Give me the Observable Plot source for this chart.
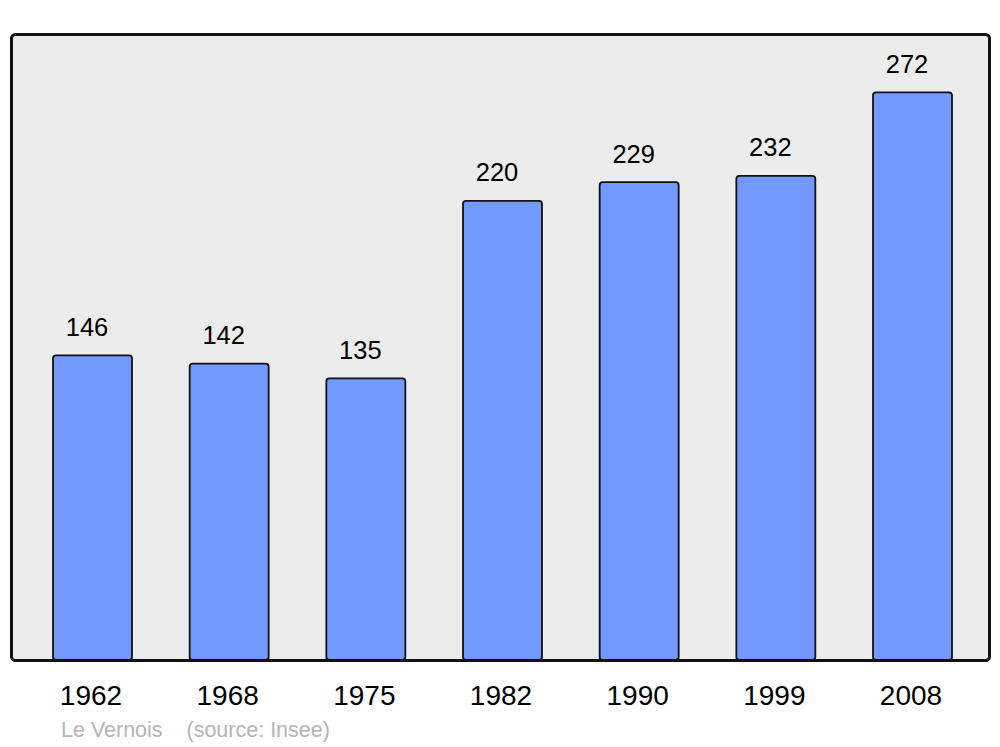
<!DOCTYPE html>
<html>
<head>
<meta charset="utf-8">
<script src="https://cdn.jsdelivr.net/npm/d3@7"></script>
<script src="https://cdn.jsdelivr.net/npm/@observablehq/plot@0.6"></script>
<style>
  html, body { margin: 0; padding: 0; background: #fff; }
  #wrap { position: relative; width: 1000px; height: 747px; font-family: "Liberation Sans", Arial, sans-serif; }
  #caption { position: absolute; left: 61px; top: 720px; font-size: 21.5px; line-height: 21.5px; color: #b5b5b5; white-space: pre; }
</style>
</head>
<body>
<div id="wrap"></div>
<script>
const years = ["1962", "1968", "1975", "1982", "1990", "1999", "2008"];
const population = [146, 142, 135, 220, 229, 232, 272];
const captionText = "Le Vernois    (source: Insee)";

const data = years.map((y, i) => ({year: y, value: population[i]}));

const chart = Plot.plot({
  width: 1000,
  height: 712,
  marginLeft: 11,
  marginRight: 11,
  marginTop: 34,
  marginBottom: 52,
  style: {fontFamily: "Liberation Sans, Arial, sans-serif", background: "transparent"},
  x: {domain: years, range: [53, 952], paddingInner: 0.422, paddingOuter: 0, round: false, label: null},
  y: {domain: [0, 300], axis: null},
  marks: [
    Plot.frame({fill: "#ececec", stroke: "none", rx: 4}),
    Plot.barY(data, {x: "year", y: "value", fill: "#7399ff", stroke: "#111", strokeWidth: 1.8, rx: 3}),
    Plot.text(data, {x: "year", y: "value", text: d => String(d.value), lineAnchor: "bottom", dy: -20, dx: -6, fontSize: 25.5, fill: "#000"}),
    Plot.axisX({tickSize: 0, tickPadding: 25, fontSize: 28, dx: -2, label: null, color: "#000"}),
    Plot.frame({fill: "none", stroke: "#111", strokeWidth: 3, rx: 4})
  ]
});

const wrap = document.getElementById("wrap");
wrap.appendChild(chart);
const cap = document.createElement("div");
cap.id = "caption";
cap.textContent = captionText;
wrap.appendChild(cap);
</script>
</body>
</html>
